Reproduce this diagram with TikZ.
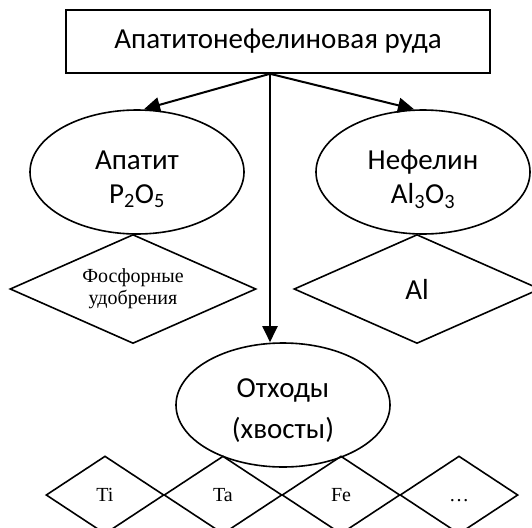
\documentclass[tikz,border=0pt]{standalone}
\usepackage{fontspec}
\setmainfont{Carlito}
\newfontfamily\seriffont{Liberation Serif}
\usetikzlibrary{shapes.geometric,arrows.meta}
\begin{document}
\begin{tikzpicture}[x=1pt,y=-1pt,
  box/.style={draw,line width=1.6pt,minimum width=424pt,minimum height=63pt,inner sep=0pt,font=\fontsize{29}{34}\selectfont},
  oval/.style={draw,line width=1.6pt,ellipse,minimum width=214pt,minimum height=124pt,inner sep=0pt},
  ovaltext/.style={align=center,inner sep=0pt,font=\fontsize{29}{34}\selectfont},
  bigdiam/.style={draw,line width=1.6pt,diamond,minimum width=246pt,minimum height=109pt,inner sep=0pt,aspect=2.26},
  smalldiam/.style={draw,line width=1.6pt,diamond,minimum width=118pt,minimum height=78pt,inner sep=0pt,aspect=1.51,text height=13pt,text depth=0pt,font=\seriffont\fontsize{20}{22}\selectfont},
  arr/.style={line width=2pt,-{Triangle[length=16pt,width=15pt]}}
]
\useasboundingbox (0,0) rectangle (532,527);
\node[box] (ore) at (278,41.5) {Апатитонефелиновая руда};

\node[oval] (apatite) at (137,172) {};
\node[ovaltext] (apatitetext) at (137,179) {Апатит\\P\textsubscript{2}O\textsubscript{5}};
\node[oval] (nepheline) at (423,172) {};
\node[ovaltext] (nephelinetext) at (423,179) {Нефелин\\Al\textsubscript{3}O\textsubscript{3}};
\node[oval] (waste) at (283,405) {};
\node[ovaltext,font=\fontsize{29}{41}\selectfont] (wastetext) at (283,411) {Отходы\\(хвосты)};

\node[bigdiam,align=center,font=\seriffont\fontsize{20}{22}\selectfont] (fert) at (133,289) {Фосфорные\\удобрения};
\node[bigdiam,font=\fontsize{29}{34}\selectfont] (al) at (417,289) {Al};

\node[smalldiam] (ti) at (105,495) {Ti};
\node[smalldiam] (ta) at (223,495) {Ta};
\node[smalldiam] (fe) at (341,495) {Fe};
\node[smalldiam] (etc) at (459,495) {…};

\draw[arr] ([xshift=-8pt]ore.south) -- ([xshift=7pt]apatite.north);
\draw[arr] ([xshift=-8pt]ore.south) -- ([xshift=-9pt]nepheline.north);
\draw[arr] ([xshift=-8pt]ore.south) -- ([xshift=-13pt]waste.north);
\end{tikzpicture}
\end{document}
